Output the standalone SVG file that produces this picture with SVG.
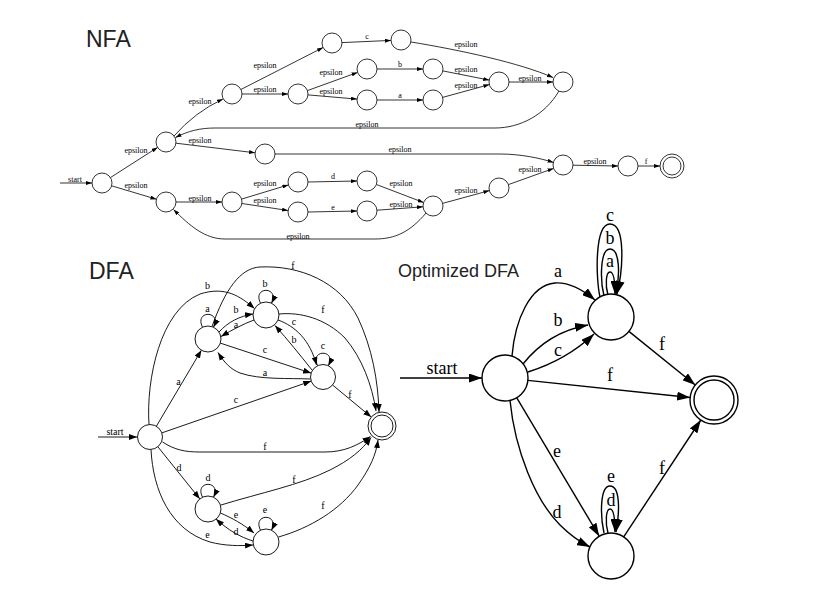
<svg xmlns="http://www.w3.org/2000/svg" width="816" height="596" viewBox="0 0 816 596">
<defs>
<marker id="a1" viewBox="0 0 6 4" refX="6" refY="2" markerWidth="6" markerHeight="4" markerUnits="userSpaceOnUse" orient="auto"><path d="M0,0 L6,2 L0,4 z" fill="#000"/></marker>
<marker id="a2" viewBox="0 0 8 6" refX="8" refY="3" markerWidth="8" markerHeight="6" markerUnits="userSpaceOnUse" orient="auto"><path d="M0,0 L8,3 L0,6 z" fill="#000"/></marker>
<marker id="a3" viewBox="0 0 13 9" refX="13" refY="4.5" markerWidth="13" markerHeight="9" markerUnits="userSpaceOnUse" orient="auto"><path d="M0,0 L13,4.5 L0,9 z" fill="#000"/></marker>
</defs>
<style>
.n1 circle{fill:#fff;stroke:#000;stroke-width:0.8}
.n2 circle{fill:#fff;stroke:#000;stroke-width:0.9}
.n3 circle{fill:#fff;stroke:#000;stroke-width:1.4}
.e1 path{fill:none;stroke:#000;stroke-width:0.8;marker-end:url(#a1)}
.e2 path{fill:none;stroke:#000;stroke-width:0.9;marker-end:url(#a2)}
.e3 path{fill:none;stroke:#000;stroke-width:1.4;marker-end:url(#a3)}
.e1 text{font-family:"Liberation Serif","Times New Roman",serif;font-size:8px;text-anchor:middle;fill:#000}
.e2 text{font-family:"Liberation Serif","Times New Roman",serif;font-size:10px;text-anchor:middle;fill:#000}
.e3 text{font-family:"Liberation Serif","Times New Roman",serif;font-size:18px;text-anchor:middle;fill:#000}
.title{font-family:"Liberation Sans",Arial,sans-serif;fill:#222}
</style>
<rect width="816" height="596" fill="#fff"/>

<text class="title" x="86" y="47" font-size="23">NFA</text>
<text class="title" x="89" y="279" font-size="23">DFA</text>
<text class="title" x="398" y="277" font-size="18">Optimized DFA</text>

<!-- NFA connectors -->
<g id="nfa-edges" class="e1">
<path d="M60,183 L92,183"/><text x="75" y="182">start</text>
<path d="M110.4,177.6 L157.6,147.4"/><text x="136" y="153">epsilon</text>
<path d="M111.6,185.8 L156.4,199.2"/><text x="136" y="187.5">epsilon</text>
<path d="M174,136 Q195,112 223,99"/><text x="200" y="103.5">epsilon</text>
<path d="M240.9,89.5 L323.1,47.5"/><text x="265" y="68">epsilon</text>
<path d="M242,94 L288,94"/><text x="265" y="92">epsilon</text>
<path d="M342,42.6 L391,40.4"/><text x="367" y="39">c</text>
<path d="M411,42 C460,50 520,63 553,77.5"/><text x="466" y="46.5">epsilon</text>
<path d="M307.4,90.6 L357.6,72.4"/><text x="331" y="75">epsilon</text>
<path d="M308,94.9 L357,99.1"/><text x="331" y="94">epsilon</text>
<path d="M377,69 L423,69"/><text x="400" y="66.5">b</text>
<path d="M377,100 L423,100"/><text x="400" y="98">a</text>
<path d="M442.8,70.9 L489.2,80.1"/><text x="466" y="71.5">epsilon</text>
<path d="M442.6,97.4 L489.4,84.6"/><text x="466" y="87.5">epsilon</text>
<path d="M509,82 L553,82"/><text x="530" y="80.5">epsilon</text>
<path d="M559,91 C545,115 520,128 495,128 L215,128 C200,128 188,131 175.5,137.5"/><text x="367" y="126.5">epsilon</text>
<path d="M175.9,143.2 L255.1,152.8"/><text x="200" y="143">epsilon</text>
<path d="M275,154 L500,154 C520,154 540,158 553.5,162.5"/><text x="400" y="152">epsilon</text>
<path d="M573,165.2 L618,166"/><text x="595" y="163.5">epsilon</text>
<path d="M638,166 L660,166"/><text x="646" y="164">f</text>
<path d="M176,202 L222,202"/><text x="200" y="200.5">epsilon</text>
<path d="M241.6,199.1 L288.4,184.9"/><text x="265" y="185.5">epsilon</text>
<path d="M241.9,203.5 L288.1,210.5"/><text x="265" y="202.5">epsilon</text>
<path d="M308,182 L357,181"/><text x="333" y="179">d</text>
<path d="M308,212 L357,211"/><text x="333" y="209.5">e</text>
<path d="M376.4,184.5 L423.6,202.5"/><text x="401" y="185.5">epsilon</text>
<path d="M377,210.2 L423,206.8"/><text x="401" y="206.5">epsilon</text>
<path d="M442.6,203.4 L489.4,190.6"/><text x="466" y="193">epsilon</text>
<path d="M508.4,184.6 L553.6,168.4"/><text x="530" y="171.5">epsilon</text>
<path d="M426,213 C410,232 395,239 375,239 L225,239 C205,239 190,226 173.5,209.5"/><text x="298" y="238.5">epsilon</text>
</g>

<!-- NFA nodes -->
<g id="nfa0" class="n1"><circle cx="102" cy="183" r="10"/></g>
<g id="nfa1" class="n1"><circle cx="166" cy="142" r="10"/></g>
<g id="nfa2" class="n1"><circle cx="232" cy="94" r="10"/></g>
<g id="nfa3" class="n1"><circle cx="332" cy="43" r="10"/></g>
<g id="nfa4" class="n1"><circle cx="401" cy="40" r="10"/></g>
<g id="nfa5" class="n1"><circle cx="298" cy="94" r="10"/></g>
<g id="nfa6" class="n1"><circle cx="367" cy="69" r="10"/></g>
<g id="nfa7" class="n1"><circle cx="433" cy="69" r="10"/></g>
<g id="nfa8" class="n1"><circle cx="367" cy="100" r="10"/></g>
<g id="nfa9" class="n1"><circle cx="433" cy="100" r="10"/></g>
<g id="nfa10" class="n1"><circle cx="499" cy="82" r="10"/></g>
<g id="nfa11" class="n1"><circle cx="563" cy="82" r="10"/></g>
<g id="nfa12" class="n1"><circle cx="265" cy="154" r="10"/></g>
<g id="nfa13" class="n1"><circle cx="563" cy="165" r="10"/></g>
<g id="nfa14" class="n1"><circle cx="628" cy="166" r="10"/></g>
<g id="nfa15" class="n1"><circle cx="672" cy="166" r="12"/><circle cx="672" cy="166" r="9"/></g>
<g id="nfa16" class="n1"><circle cx="166" cy="202" r="10"/></g>
<g id="nfa17" class="n1"><circle cx="232" cy="202" r="10"/></g>
<g id="nfa18" class="n1"><circle cx="298" cy="182" r="10"/></g>
<g id="nfa19" class="n1"><circle cx="367" cy="181" r="10"/></g>
<g id="nfa20" class="n1"><circle cx="298" cy="212" r="10"/></g>
<g id="nfa21" class="n1"><circle cx="367" cy="211" r="10"/></g>
<g id="nfa22" class="n1"><circle cx="433" cy="206" r="10"/></g>
<g id="nfa23" class="n1"><circle cx="499" cy="188" r="10"/></g>

<!-- DFA connectors -->
<g id="dfa-edges" class="e2">
<path d="M98,437 L137,437"/><text x="115" y="435">start</text>
<path d="M156.4,426.2 L201.4,350.2"/><text x="178.5" y="385">a</text>
<path d="M149,424.5 C146,380 160,310 200,294 C225,286 240,296 254.5,308.5"/><text x="207.5" y="289">b</text>
<path d="M161.8,432.9 L311.2,381.1"/><text x="236" y="403">c</text>
<path d="M162.5,442 C175,450 185,452 200,452 L325,452 C345,452 358,445 370.5,436.5"/><text x="265" y="450">f</text>
<path d="M212,326.5 C225,290 240,268 260,267 C300,265 340,282 358,318 C372,348 378,380 379,412"/><text x="293" y="269">f</text>
<path d="M279,314 C300,312 325,318 345,338 C362,358 372,385 376,411"/><text x="323" y="313">f</text>
<path d="M332.6,385 L371.2,417"/><text x="350" y="398">f</text>
<path d="M221,505 C260,493 300,485 330,470 C350,460 362,450 371,437.5"/><text x="294" y="482.5">f</text>
<path d="M278.5,537 C310,528 340,510 358,485 C370,468 376,455 378,440"/><text x="323" y="509">f</text>
<path d="M202.5,327.2 C194,310 222,310 213.5,327.2"/><text x="207.5" y="312">a</text>
<path d="M260.5,303.2 C252,286 280,286 271.5,303.2"/><text x="265" y="286.5">b</text>
<path d="M317.7,365.7 C309,349 337,349 328.3,365.7"/><text x="323" y="349">c</text>
<path d="M202.5,497.2 C194,480 222,480 213.5,497.2"/><text x="208" y="480.5">d</text>
<path d="M260.5,530.2 C252,513 280,513 271.5,530.2"/><text x="265" y="513">e</text>
<path d="M219,332 C228,322 240,316 253,314"/><text x="236" y="312.5">b</text>
<path d="M254,320 C243,324 232,330 221,336.5"/><text x="236" y="328">a</text>
<path d="M220.3,343.1 L311.1,373.1"/><text x="265" y="352.5">c</text>
<path d="M310.5,379 C290,378 260,380 240,373 C230,369 224,362 218,352.5"/><text x="265" y="376">a</text>
<path d="M278,320 C295,326 310,340 316.5,365"/><text x="294" y="325">c</text>
<path d="M312,370 C300,355 288,340 275,325.5"/><text x="294" y="343">b</text>
<path d="M157.8,446.7 L199.8,498.9"/><text x="179" y="471">d</text>
<path d="M151,449.5 C153,490 170,530 210,542 C225,546 240,546 253,545"/><text x="207.5" y="538">e</text>
<path d="M220.5,513 C232,518 243,524 254,533"/><text x="236" y="518">e</text>
<path d="M253,541 C240,537 228,530 216,519"/><text x="236" y="535">d</text>
</g>

<!-- DFA nodes -->
<g id="dfaS" class="n2"><circle cx="150" cy="437" r="12.5"/></g>
<g id="dfaA" class="n2"><circle cx="208" cy="339" r="13"/></g>
<g id="dfaB" class="n2"><circle cx="266" cy="315" r="13"/></g>
<g id="dfaC" class="n2"><circle cx="323" cy="377" r="12.5"/></g>
<g id="dfaF" class="n2"><circle cx="382" cy="426" r="14"/><circle cx="382" cy="426" r="11"/></g>
<g id="dfaD" class="n2"><circle cx="208" cy="509" r="13"/></g>
<g id="dfaE" class="n2"><circle cx="266" cy="542" r="13"/></g>

<!-- Optimized DFA connectors -->
<g id="opt-edges" class="e3">
<path d="M400,378 L482,378"/><text x="442" y="373.5">start</text>
<path d="M512,356 C515,320 530,285 555,283 C570,282 583,290 595,300"/><text x="558" y="277">a</text>
<path d="M523,364 C538,345 560,330 588,325"/><text x="558" y="325.5">b</text>
<path d="M528,372 C550,365 575,352 594,334"/><text x="558" y="355.5">c</text>
<path d="M527.9,380.4 L690.1,397.5"/><text x="610" y="381">f</text>
<path d="M516.8,397.8 L599.2,536.2"/><text x="557" y="457">e</text>
<path d="M510,400.5 C515,450 535,500 560,525 C570,535 580,542 590,547"/><text x="557" y="518">d</text>
<path d="M628.9,331.4 L695.3,385"/><text x="662" y="350">f</text>
<path d="M623.7,536.8 L700.8,420"/><text x="662" y="474">f</text>
<path d="M600,297 C596,280 594,224 610,224 C626,224 623,270 617,294"/><text x="610" y="220.5">c</text>
<path d="M604,296 C600,280 600,249 610,249 C620,249 620,275 616,294"/><text x="610" y="243.5">b</text>
<path d="M608,295 C605,285 606,272 610,272 C614,272 615,283 615,294"/><text x="610" y="267">a</text>
<path d="M604,533 C600,515 600,486 610,486 C620,486 620,510 616,532"/><text x="611" y="482">e</text>
<path d="M608,533 C605,522 606,509 610,509 C614,509 615,520 615,532"/><text x="611" y="505.5">d</text>
</g>

<!-- Optimized DFA nodes -->
<g id="optS" class="n3"><circle cx="505" cy="378" r="23"/></g>
<g id="optP" class="n3"><circle cx="611" cy="317" r="23"/></g>
<g id="optF" class="n3"><circle cx="714" cy="400" r="24"/><circle cx="714" cy="400" r="20"/></g>
<g id="optQ" class="n3"><circle cx="611" cy="556" r="23"/></g>
</svg>
